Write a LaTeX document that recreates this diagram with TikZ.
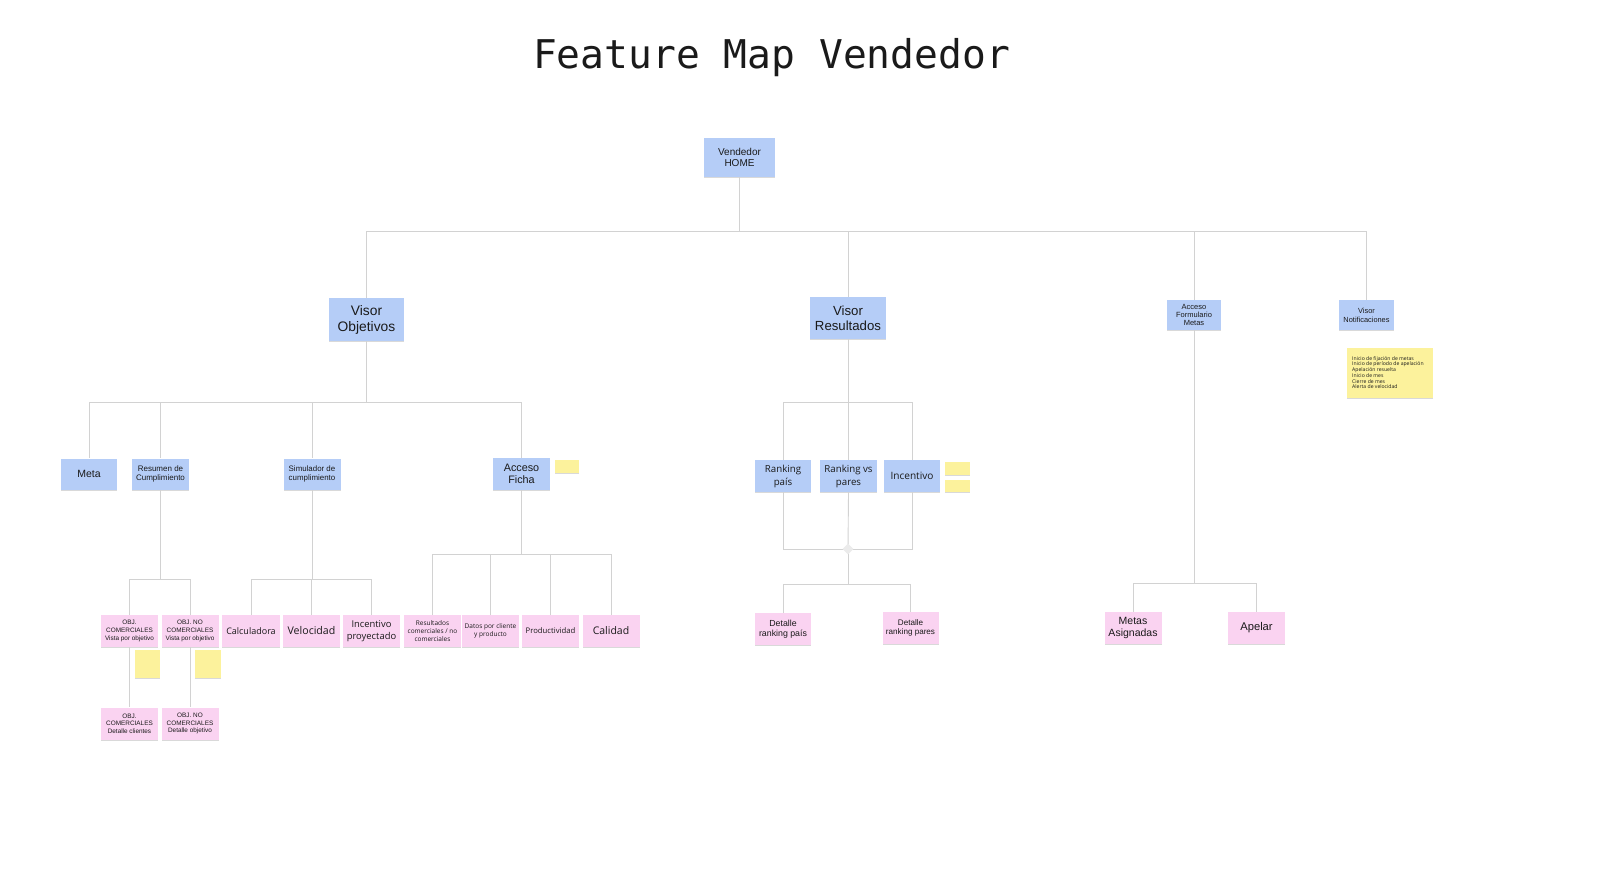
\documentclass[tikz,border=0pt]{standalone}
\usepackage{fontspec}
\setmainfont{Liberation Sans}
\newfontfamily\os{Open Sans}
\newfontfamily\mono{DejaVu Sans Mono}
\usetikzlibrary{shadows,shapes.geometric}
\definecolor{bluebox}{HTML}{B5CDF7}
\definecolor{pinkbox}{HTML}{FAD3F1}
\definecolor{yelbox}{HTML}{FCF29C}
\definecolor{linegray}{HTML}{D2D2D2}
\definecolor{txt}{HTML}{1A1A1A}
\newcommand{\fs}[2]{\fontsize{#1}{#2}\selectfont}
\tikzset{
  card/.style={draw=none, inner sep=1pt, align=center, text=txt,
    drop shadow={shadow xshift=0pt, shadow yshift=-1.3pt, opacity=0.15, fill=black}},
  bluecard/.style={card, fill=bluebox, minimum width=57pt, minimum height=31pt},
  pinkcard/.style={card, fill=pinkbox, minimum width=57pt, minimum height=32pt},
  notecard/.style={card, fill=yelbox},
  conn/.style={draw=linegray, line width=0.9pt},
}
\begin{document}
\begin{tikzpicture}[x=1pt,y=-1pt]
\useasboundingbox[fill=white] (0,0) rectangle (1600,868);

% title
\node[anchor=base, text=txt, font=\mono\fs{39.6}{44}] (title) at (771.5,68) {Feature Map Vendedor};

% level 0
\node[bluecard, minimum width=71pt, minimum height=39pt, font=\fs{10}{11}] (home) at (739.5,157.5) {Vendedor\\HOME};

% level 1
\node[bluecard, minimum width=75pt, minimum height=43pt, font=\fs{13.8}{16}] (vobj) at (366.5,319.5) {Visor\\Objetivos};
\node[bluecard, minimum width=76pt, minimum height=42pt, font=\fs{13.2}{15}] (vres) at (848,318) {Visor\\Resultados};
\node[bluecard, minimum width=54pt, minimum height=30pt, font=\fs{7.5}{8.3}] (afm) at (1194,315) {Acceso\\Formulario\\Metas};
\node[bluecard, minimum width=55pt, minimum height=30pt, font=\fs{7.4}{9}] (vnot) at (1366.5,315) {Visor\\Notificaciones};
\node[notecard, minimum width=86pt, minimum height=50pt] (notif) at (1390,373) {};
\node[anchor=north west, align=left, inner sep=0pt, text=txt, font=\os\fs{5.1}{5.75}] (notiftxt) at (1352,356)
  {Inicio de fijación de metas\\Inicio de período de apelación\\Apelación resuelta\\Inicio de mes\\Cierre de mes\\Alerta de velocidad};

% level 2 (objetivos)
\node[bluecard, minimum width=56pt, font=\fs{10.5}{12}] (meta) at (89,474) {Meta};
\node[bluecard, font=\fs{8}{9.2}] (resumen) at (160.5,474) {Resumen de\\Cumplimiento};
\node[bluecard, font=\fs{7.9}{9.2}] (simul) at (312,474) {Simulador de\\cumplimiento};
\node[bluecard, minimum height=32pt, font=\fs{10.8}{11.5}] (ficha) at (521.5,474) {Acceso\\Ficha};
\node[notecard, minimum width=24pt, minimum height=13pt] (nficha) at (567,466.5) {};

% level 2 (resultados)
\node[bluecard, minimum width=56pt, minimum height=32pt, font=\os\fs{9.7}{13}] (rpais) at (783,476) {Ranking\\país};
\node[bluecard, minimum width=57pt, minimum height=32pt, font=\os\fs{9.7}{13}] (rpares) at (848.5,476) {Ranking vs\\pares};
\node[bluecard, minimum width=56pt, minimum height=32pt, font=\os\fs{10.1}{12}] (incent) at (912,476) {Incentivo};
\node[notecard, minimum width=25pt, minimum height=13pt] (ninc1) at (957.5,468.5) {};
\node[notecard, minimum width=25pt, minimum height=12pt] (ninc2) at (957.5,486) {};

% level 3 (resumen)
\node[pinkcard, font=\fs{6.4}{7.6}] (obj1) at (129.5,631) {OBJ.\\COMERCIALES\\Vista por objetivo};
\node[pinkcard, font=\fs{6.4}{7.6}] (obj2) at (190,631) {OBJ. NO\\COMERCIALES\\Vista por objetivo};
\node[notecard, minimum width=25pt, minimum height=28pt] (nobj1) at (147.5,664) {};
\node[notecard, minimum width=26pt, minimum height=28pt] (nobj2) at (208,664) {};
\node[pinkcard, font=\fs{6.4}{7.6}] (obj1d) at (129.5,723.5) {OBJ.\\COMERCIALES\\Detalle clientes};
\node[pinkcard, font=\fs{6.4}{7.6}] (obj2d) at (190,723.5) {OBJ. NO\\COMERCIALES\\Detalle objetivo};

% level 3 (simulador)
\node[pinkcard, minimum width=58pt, font=\os\fs{9}{11}] (calc) at (251,631) {Calculadora};
\node[pinkcard, font=\os\fs{10.6}{12}] (velo) at (311.5,631) {Velocidad};
\node[pinkcard, font=\os\fs{9.4}{12}] (incp) at (371.5,631) {Incentivo\\proyectado};

% level 3 (ficha)
\node[pinkcard, font=\os\fs{6.5}{8.4}] (resc) at (432.5,631) {Resultados\\comerciales / no\\comerciales};
\node[pinkcard, font=\os\fs{6.5}{8.4}] (datos) at (490.5,631) {Datos por cliente\\y producto};
\node[pinkcard, font=\os\fs{7.7}{9}] (prod) at (550.5,631) {Productividad};
\node[pinkcard, font=\os\fs{10.5}{12}] (cal) at (611,631) {Calidad};

% level 3 (resultados)
\node[pinkcard, minimum width=56pt, font=\fs{8.8}{10.5}] (dpais) at (783,629) {Detalle\\ranking país};
\node[pinkcard, minimum width=56pt, font=\fs{8.1}{9.5}] (dpares) at (910.5,628) {Detalle\\ranking pares};

% level 3 (formulario)
\node[pinkcard, minimum width=57pt, font=\fs{10.5}{11.5}] (metasa) at (1133,628) {Metas\\Asignadas};
\node[pinkcard, minimum width=57pt, font=\fs{11.2}{12}] (apelar) at (1256.5,628) {Apelar};

% ---- connectors ----
\begin{scope}[on background layer/.try]
\coordinate (b0) at (739.5,231);
\draw[conn] (home.south) -- (b0);
\draw[conn] (b0) -| (vobj.north);
\draw[conn] (b0) -| (vres.north);
\draw[conn] (b0) -| (afm.north);
\draw[conn] (b0) -| (vnot.north);

\coordinate (b1) at (366.5,402);
\draw[conn] (vobj.south) -- (b1);
\draw[conn] (b1) -| (meta.north);
\draw[conn] (b1) -| (resumen.north);
\draw[conn] (b1) -| (simul.north);
\draw[conn] (b1) -| (ficha.north);

\coordinate (b2) at (160.5,579);
\draw[conn] (resumen.south) -- (b2);
\draw[conn] (b2) -| (obj1.north);
\draw[conn] (b2) -| (obj2.north);
\draw[conn] (obj1.south) -- (obj1d.north);
\draw[conn] (obj2.south) -- (obj2d.north);

\coordinate (b3) at (312,579);
\draw[conn] (simul.south) -- (b3);
\draw[conn] (b3) -| (calc.north);
\draw[conn] (b3) -| (velo.north);
\draw[conn] (b3) -| (incp.north);

\coordinate (b4) at (521.5,554);
\draw[conn] (ficha.south) -- (b4);
\draw[conn] (b4) -| (resc.north);
\draw[conn] (b4) -| (datos.north);
\draw[conn] (b4) -| (prod.north);
\draw[conn] (b4) -| (cal.north);

\coordinate (b5) at (848,402);
\draw[conn] (vres.south) -- (b5);
\draw[conn] (b5) -| (rpais.north);
\draw[conn] (b5) -| (rpares.north);
\draw[conn] (b5) -| (incent.north);

\coordinate (b6) at (848,549);
\draw[conn] (rpais.south) |- (b6);
\draw[conn] (incent.south) |- (b6);
\draw[conn] (rpares.south) -- (b6);
\coordinate (b7) at (848,584);
\draw[conn] (b6) -- (b7);
\draw[conn] (b7) -| (dpais.north);
\draw[conn] (b7) -| (dpares.north);

\coordinate (b8) at (1194,583);
\draw[conn] (afm.south) -- (b8);
\draw[conn] (b8) -| (metasa.north);
\draw[conn] (b8) -| (apelar.north);
\end{scope}
\node[diamond, fill=linegray!45, inner sep=0pt, minimum size=11pt] (junc) at (b6) {};
\end{tikzpicture}
\end{document}
